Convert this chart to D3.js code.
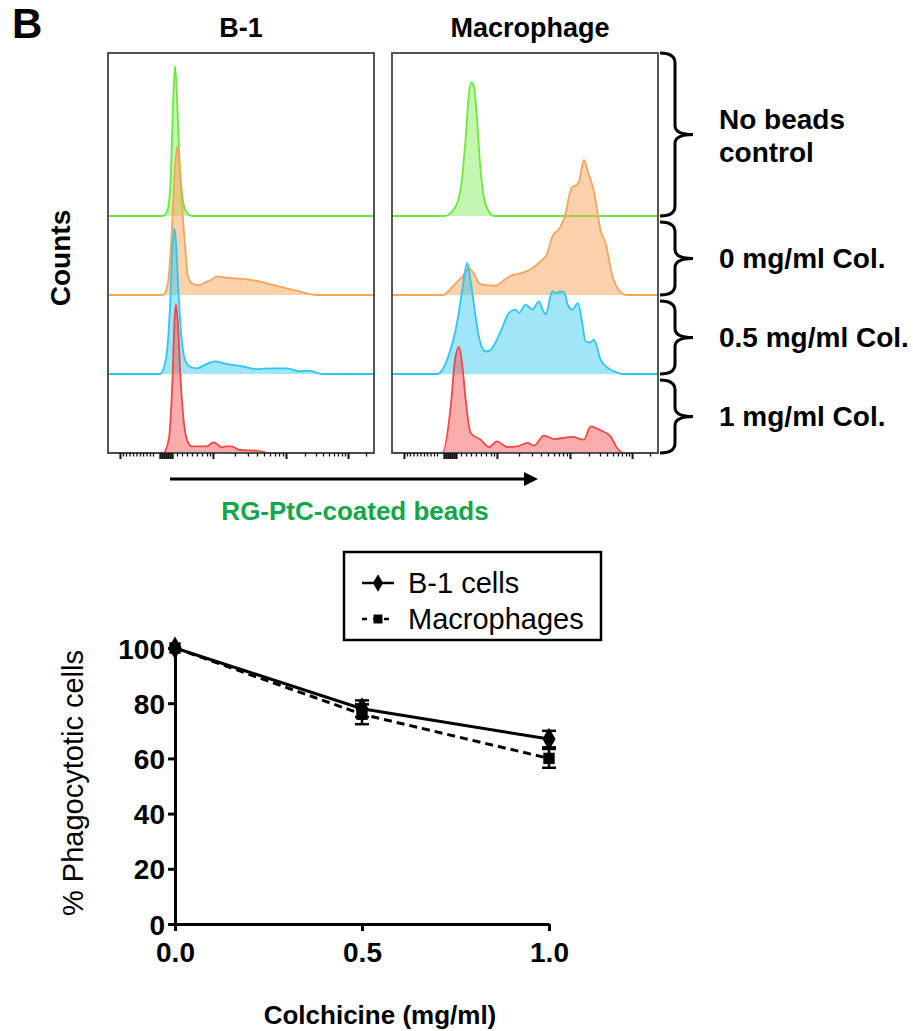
<!DOCTYPE html>
<html>
<head>
<meta charset="utf-8">
<script src="https://cdn.jsdelivr.net/npm/d3@7"></script>
<style>
  body { margin: 0; background: #fff; }
  text { font-family: "Liberation Sans", Arial, sans-serif; }
</style>
</head>
<body>
<div id="chart"></div>
<script>
// ---- histogram data (x in display channels 0-256, y in % of max count) ----
var laneLabels = ["No beads control", "0 mg/ml Col.", "0.5 mg/ml Col.", "1 mg/ml Col."];
var panelTitles = ["B-1", "Macrophage"];

var b1NoBeads = [[0,0],[53,0],[57.7,5],[60.6,30],[62.6,75],[64.5,100],[66.4,80],[68.3,45],[71.2,15],[75.1,3],[80.8,0],[256,0]];
var b1Col0 = [[0,0],[52.9,0],[57.7,8],[61.6,45],[64.5,85],[66.7,99],[68.3,90],[71.2,60],[74.1,33],[77,12],[81.8,7.3],[88.5,6.7],[93.3,8.4],[99.1,10],[104.6,12.4],[114.2,11.5],[129.9,10.7],[146.3,8.9],[158.8,6.7],[172,4.4],[184.8,2.2],[200.8,0],[256,0]];
var b1Col05 = [[0,0],[50,0],[55.8,10],[59.7,45],[62.1,85],[63.8,97],[65.4,88],[67.8,55],[70.9,23],[75.1,7.8],[79.9,4.5],[85.4,3.8],[95,6.7],[103,8.4],[114.2,6.7],[129.9,5],[143.1,3.3],[158.8,3.8],[172,3.8],[184.8,1.8],[192.5,2.2],[206.9,0],[256,0]];
var b1Col1 = [[0,0],[53.2,0],[58.7,10],[62.1,50],[64,88],[65.4,99],[67.4,85],[69.8,50],[72.5,24],[76.3,8.2],[80.6,4.4],[95,4.4],[101.3,7.1],[104.9,6],[109.4,3.8],[113.6,4.4],[119,4.4],[127,2],[143.1,1.6],[155.9,0],[256,0]];

var macNoBeads = [[0,0],[50,0],[57.7,3],[63.5,10],[67.4,25],[71.2,55],[74.1,82],[76.3,89],[78.9,86],[81.8,65],[84.7,35],[88.5,12],[92.4,4],[98.2,0],[256,0]];
var macCol0 = [[0,0],[50,0],[54.9,3],[61.3,7.8],[67.4,12],[74.1,17.8],[78.9,14],[83.7,8],[88.5,6.7],[99.8,6.2],[107.8,10],[115.8,13.3],[123.8,14.4],[135,17.8],[142.4,22],[149.4,27.8],[154.2,38.9],[162.3,45.6],[167.1,54.4],[171.2,68],[173.5,72],[176.7,73],[179.9,75.6],[184.7,90],[188.6,82],[194.3,69],[200.8,43],[205.6,34.4],[211.9,13.3],[218.4,3.3],[226.4,0],[256,0]];
var macCol05 = [[0,0],[43.6,0],[54.8,12.9],[62.8,35],[67.4,55],[72.4,74],[75,65],[78.9,46],[82.7,28],[86.9,17.3],[90.4,15],[95,16.2],[104.6,28.4],[112.6,40.7],[119,42.9],[122.2,40.7],[128.6,46.2],[132.8,44],[135,42.9],[141.4,48.4],[144.3,44],[147.9,39.6],[154.2,55],[159,54],[161.6,55],[165.5,54.7],[169.3,46],[173.5,42.9],[179,47.3],[182.8,35],[186.3,21.8],[190.5,21],[194.3,22.9],[200.8,9.5],[206.8,4.5],[213.6,1.8],[221.6,0],[256,0]];
var macCol1 = [[0,0],[48.4,0],[56.5,31],[60.6,62],[64.5,70.7],[67.4,60],[70.9,35.6],[75.7,13.3],[85.3,8.9],[93.3,4],[101.3,7.8],[105.8,6],[110.9,4],[120.5,4.4],[130.2,6.7],[136.6,4.9],[146.2,11.6],[155.8,9.3],[173.5,10.7],[184.7,8.9],[191.2,17.8],[200.8,15.1],[210.4,11.1],[216.7,3.3],[223.2,0],[256,0]];

// biexponential-looking axis ticks (channels)
var majorTicks = [11.5, 101, 171.3, 231];
var zeroTicks = [50, 52, 53.9, 55.8, 57.7, 59.7, 61.6];
var minorTicks = [14.4,17.3,20.7,24.1,27.4,30.8,33.7,37.1,40.4,43.3,
  66.4,71.2,76,80.8,85.6,90.4,95.3,98.2,
  122.2,134.7,143.4,150.1,155.9,160.7,164.6,168.4,
  189.6,200.2,206.9,212.7,217.5,221.3,225.2,228.1,248.3];

// ---- phagocytosis data ----
var doses = [0, 0.5, 1.0];
var b1Mean = [100, 78, 67];
var b1Err = [0, 3, 3];
var macMean = [100, 76, 60];
var macErr = [0, 3.6, 3.4];
var yTicks = [0, 20, 40, 60, 80, 100];
var xTicks = [0, 0.5, 1.0];

var laneColors = [
  {stroke: "#6ee83c", fill: "rgba(110,232,60,0.4)"},
  {stroke: "#f7a55a", fill: "rgba(247,165,90,0.5)"},
  {stroke: "#2fc6f2", fill: "rgba(47,198,242,0.45)"},
  {stroke: "#f04848", fill: "rgba(240,72,72,0.45)"}
];

var svg = d3.select("#chart").append("svg")
  .attr("width", 913).attr("height", 1031);

svg.append("text").attr("x", 12).attr("y", 38)
  .style("font-size", "42px").style("font-weight", "bold").text("B");

// ---- histogram panels ----
var panelW = 266, panelTop = 53, panelBottom = 453;
var laneStep = 79;
var panels = [
  {x0: 108, lanes: [b1NoBeads, b1Col0, b1Col05, b1Col1]},
  {x0: 392, lanes: [macNoBeads, macCol0, macCol05, macCol1]}
];

var hx = d3.scaleLinear().domain([0, 256]).range([0, panelW]);
var hy = d3.scaleLinear().domain([0, 100]).range([0, 150]);

function baseline(i) { return panelBottom - panelTop - (3 - i) * laneStep; }

panels.forEach(function(p, pi) {
  var g = svg.append("g").attr("transform", "translate(" + p.x0 + "," + panelTop + ")");

  svg.append("text")
    .attr("x", p.x0 + panelW / 2 + (pi === 1 ? 5 : 0)).attr("y", 37)
    .attr("text-anchor", "middle")
    .style("font-size", "27px").style("font-weight", "bold")
    .text(panelTitles[pi]);

  p.lanes.forEach(function(d, i) {
    var b = baseline(i);
    var area = d3.area()
      .x(function(v) { return hx(v[0]); })
      .y0(b)
      .y1(function(v) { return b - hy(v[1]); })
      .curve(d3.curveMonotoneX);
    var line = area.lineY1();
    g.append("path").attr("d", area(d)).attr("fill", laneColors[i].fill);
    g.append("path").attr("d", line(d)).attr("fill", "none")
      .attr("stroke", laneColors[i].stroke).attr("stroke-width", 1.8);
  });

  g.append("rect").attr("x", 0).attr("y", 0)
    .attr("width", panelW).attr("height", panelBottom - panelTop)
    .attr("fill", "none").attr("stroke", "#444").attr("stroke-width", 1.8);

  var h = panelBottom - panelTop;
  [[majorTicks, 6, 2], [zeroTicks, 6, 2.2], [minorTicks, 3.5, 1.3]].forEach(function(t) {
    var ax = g.append("g").attr("transform", "translate(0," + h + ")")
      .call(d3.axisBottom(hx).tickValues(t[0]).tickFormat("").tickSize(t[1]).tickSizeOuter(0));
    ax.select(".domain").remove();
    ax.selectAll("line").attr("stroke", "#111").attr("stroke-width", t[2]);
  });
});

svg.append("text")
  .attr("transform", "translate(70,258) rotate(-90)")
  .attr("text-anchor", "middle")
  .style("font-size", "28px").style("font-weight", "bold")
  .text("Counts");

// braces + lane labels
var braceX = 660;
var labelSize = "28px";
laneLabels.forEach(function(lab, i) {
  var y0 = i === 0 ? panelTop : panelTop + baseline(i - 1) + 6;
  var y1 = panelTop + baseline(i);
  var ym = (y0 + y1) / 2;
  var sx = braceX + 15, tip = braceX + 33;
  var p = d3.path();
  p.moveTo(braceX, y0);
  p.quadraticCurveTo(sx, y0, sx, y0 + 10);
  p.lineTo(sx, ym - 9);
  p.quadraticCurveTo(sx, ym, tip, ym);
  p.quadraticCurveTo(sx, ym, sx, ym + 9);
  p.lineTo(sx, y1 - 10);
  p.quadraticCurveTo(sx, y1, braceX, y1);
  svg.append("path").attr("d", p.toString()).attr("fill", "none")
    .attr("stroke", "#000").attr("stroke-width", 3);

  var t = svg.append("text").attr("x", 719)
    .style("font-size", labelSize).style("font-weight", "bold");
  if (i === 0) {
    t.attr("y", ym - 6).text("No beads");
    svg.append("text").attr("x", 719).attr("y", ym + 27)
      .style("font-size", labelSize).style("font-weight", "bold").text("control");
  } else {
    t.attr("y", ym + 9).text(lab);
  }
});

// arrow and x label for histograms
svg.append("line").attr("x1", 170).attr("x2", 532).attr("y1", 479).attr("y2", 479)
  .attr("stroke", "#000").attr("stroke-width", 3);
svg.append("path").attr("d", "M524,472 L538,479 L524,486 Z").attr("fill", "#000");
svg.append("text").attr("x", 355).attr("y", 520).attr("text-anchor", "middle")
  .attr("fill", "#12a84a")
  .style("font-size", "26px").style("font-weight", "bold")
  .text("RG-PtC-coated beads");

// ---- line chart ----
var x = d3.scaleLinear().domain([0, 1]).range([175, 549]);
var y = d3.scaleLinear().domain([0, 100]).range([924, 648]);

var yAxis = svg.append("g").attr("transform", "translate(175,0)")
  .call(d3.axisLeft(y).tickValues(yTicks).tickSize(7).tickSizeOuter(0).tickPadding(3));
var xAxis = svg.append("g").attr("transform", "translate(0,924)")
  .call(d3.axisBottom(x).tickValues(xTicks).tickFormat(d3.format(".1f")).tickSize(7).tickSizeOuter(0).tickPadding(6));
[yAxis, xAxis].forEach(function(a) {
  a.select(".domain").attr("stroke", "#000").attr("stroke-width", 3);
  a.selectAll(".tick line").attr("stroke", "#000").attr("stroke-width", 3);
  a.selectAll(".tick text").attr("fill", "#000")
    .style("font-size", "28px").style("font-weight", "bold")
    .style("font-family", "'Liberation Sans', Arial, sans-serif");
});
xAxis.selectAll(".tick text").attr("dy", "0.9em");
yAxis.selectAll(".tick text").attr("dy", "0.36em");

svg.append("text")
  .attr("transform", "translate(83,783) rotate(-90)")
  .attr("text-anchor", "middle")
  .style("font-size", "29px")
  .text("% Phagocytotic cells");

svg.append("text").attr("x", 380).attr("y", 1024).attr("text-anchor", "middle")
  .style("font-size", "26px").style("font-weight", "bold")
  .text("Colchicine (mg/ml)");

var series = [
  {mean: macMean, err: macErr, dash: "8,5", sym: d3.symbolSquare, size: 130},
  {mean: b1Mean, err: b1Err, dash: null, sym: d3.symbolDiamond, size: 150}
];

series.forEach(function(s) {
  var pts = doses.map(function(d, i) { return {x: d, y: s.mean[i], e: s.err[i]}; });
  svg.append("path")
    .attr("d", d3.line().x(function(p) { return x(p.x); }).y(function(p) { return y(p.y); })(pts))
    .attr("fill", "none").attr("stroke", "#000").attr("stroke-width", 3)
    .attr("stroke-dasharray", s.dash);
  pts.forEach(function(p) {
    if (p.e > 0) {
      var cx = x(p.x);
      svg.append("line").attr("x1", cx).attr("x2", cx)
        .attr("y1", y(p.y - p.e)).attr("y2", y(p.y + p.e))
        .attr("stroke", "#000").attr("stroke-width", 2.5);
      [p.y - p.e, p.y + p.e].forEach(function(v) {
        svg.append("line").attr("x1", cx - 7).attr("x2", cx + 7)
          .attr("y1", y(v)).attr("y2", y(v))
          .attr("stroke", "#000").attr("stroke-width", 2.5);
      });
    }
    svg.append("path").attr("d", d3.symbol().type(s.sym).size(s.size)())
      .attr("transform", "translate(" + x(p.x) + "," + y(p.y) + ")")
      .attr("fill", "#000");
  });
});

// legend
var lg = svg.append("g");
lg.append("rect").attr("x", 344).attr("y", 552).attr("width", 257).attr("height", 88)
  .attr("fill", "#fff").attr("stroke", "#000").attr("stroke-width", 2.5);
var legendItems = [
  {name: "B-1 cells", dash: null, sym: d3.symbolDiamond, size: 90, yy: 583},
  {name: "Macrophages", dash: "5,6", sym: d3.symbolSquare, size: 80, yy: 619}
];
legendItems.forEach(function(it) {
  lg.append("line").attr("x1", 362).attr("x2", 394).attr("y1", it.yy).attr("y2", it.yy)
    .attr("stroke", "#000").attr("stroke-width", 2.5).attr("stroke-dasharray", it.dash);
  lg.append("path").attr("d", d3.symbol().type(it.sym).size(it.size)())
    .attr("transform", "translate(378," + it.yy + ")").attr("fill", "#000");
  lg.append("text").attr("x", 408).attr("y", it.yy + 10)
    .style("font-size", "29px").text(it.name);
});
</script>
</body>
</html>
